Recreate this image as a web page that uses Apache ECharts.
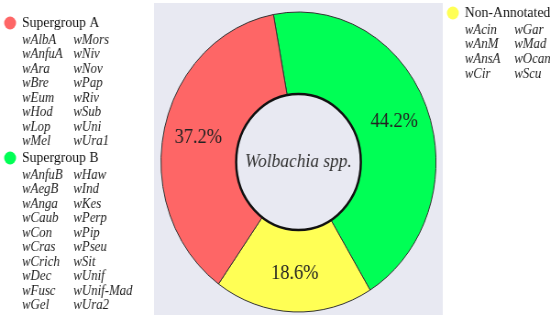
<!DOCTYPE html>
<html>
<head>
<meta charset="utf-8">
<script src="https://cdn.jsdelivr.net/npm/echarts@6/dist/echarts.min.js"></script>
<style>
  html, body { margin: 0; padding: 0; background: #fff; overflow: hidden; width: 550px; height: 320px; }
  /* the reference is squeezed horizontally, so draw wider and scale it down */
  #main { width: 600px; height: 320px; transform: scaleX(0.9167); transform-origin: 0 0; }
</style>
</head>
<body>
<div id="main"></div>
<script>
// data
const categories = ['Supergroup B', 'Non-Annotated', 'Supergroup A'];
const shares = [44.2, 18.6, 37.2];
const sliceColors = ['#00ff55', '#ffff55', '#fe6666'];

const groupA = ['wAlbA', 'wAnfuA', 'wAra', 'wBre', 'wEum', 'wHod', 'wLop', 'wMel',
  'wMors', 'wNiv', 'wNov', 'wPap', 'wRiv', 'wSub', 'wUni', 'wUra1'];
const groupB = ['wAnfuB', 'wAegB', 'wAnga', 'wCaub', 'wCon', 'wCras', 'wCrich', 'wDec', 'wFusc', 'wGel',
  'wHaw', 'wInd', 'wKes', 'wPerp', 'wPip', 'wPseu', 'wSit', 'wUnif', 'wUnif-Mad', 'wUra2'];
const nonAnnotated = ['wAcin', 'wAnM', 'wAnsA', 'wCir', 'wGar', 'wMad', 'wOcan', 'wScu'];

const serif = '"Liberation Serif", "DejaVu Serif", serif';
const cx = 325.6, cy = 162;

// legend block: dot + title + strains in two columns
function legendBlock(x, y, title, color, strains, colGap, rowStep) {
  const els = [];
  els.push({ type: 'circle', shape: { cx: x, cy: y, r: 6.5 }, style: { fill: color } });
  els.push({ type: 'text', x: x + 13, y: y,
    style: { text: title, font: '15px ' + serif, fill: '#111', verticalAlign: 'middle' } });
  const half = Math.ceil(strains.length / 2);
  strains.forEach(function (s, i) {
    const col = i < half ? 0 : 1;
    const row = i < half ? i : i - half;
    els.push({ type: 'text', x: x + 13 + col * colGap, y: y + 17 + row * rowStep,
      style: { text: s, font: 'italic 14px ' + serif, fill: '#222', verticalAlign: 'middle' } });
  });
  return els;
}

const chart = echarts.init(document.getElementById('main'));
chart.setOption({
  animation: false,
  graphic: [
    { type: 'rect', z: -10, shape: { x: 168, y: 3, width: 315, height: 312 }, style: { fill: '#e8e9f2' } }
  ].concat(
    legendBlock(11, 23, 'Supergroup A', sliceColors[2], groupA, 56, 14.5),
    legendBlock(11, 158, 'Supergroup B', sliceColors[0], groupB, 56, 14.5),
    legendBlock(494, 13, 'Non-Annotated', sliceColors[1], nonAnnotated, 54, 14.7),
    [
      { type: 'circle', z: 10, shape: { cx: cx, cy: cy, r: 68 }, style: { fill: '#e8e9f2', stroke: '#111', lineWidth: 2.5 } },
      { type: 'text', z: 11, x: cx, y: cy,
        style: { text: 'Wolbachia spp.', font: 'italic 19px ' + serif, fill: '#333', align: 'center', verticalAlign: 'middle' } }
    ]
  ),
  series: [{
    type: 'pie',
    center: [cx, cy],
    radius: [68, 150],
    startAngle: 100.5,
    clockwise: true,
    silent: true,
    itemStyle: { borderColor: '#333', borderWidth: 1 },
    label: {
      show: true,
      position: 'inside',
      formatter: function (p) { return p.value.toFixed(1) + '%'; },
      fontFamily: serif,
      fontSize: 20,
      color: '#222'
    },
    labelLine: { show: false },
    data: categories.map(function (c, i) {
      return { name: c, value: shares[i], itemStyle: { color: sliceColors[i] } };
    })
  }]
});
</script>
</body>
</html>
